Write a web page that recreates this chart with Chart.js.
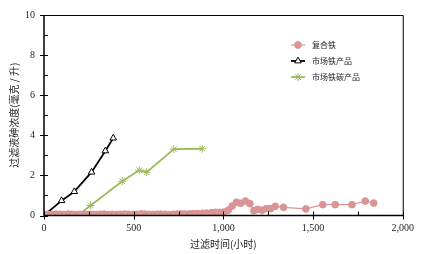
<!DOCTYPE html>
<html>
<head>
<meta charset="utf-8">
<script src="https://cdn.jsdelivr.net/npm/chart.js@4/dist/chart.umd.min.js"></script>
<style>
	html, body { margin: 0; padding: 0; background: #fff; }
	#wrap { width: 421px; height: 254px; }
</style>
</head>
<body>
<div id="wrap"><canvas id="result_chart"></canvas></div>
<script>
var seriesNames = ['复合铁', '市场铁产品', '市场铁碳产品'];

var compositeHours = [0, 20, 45, 65, 90, 110, 135, 155, 180, 200, 225, 245, 270, 290, 315, 335, 360, 380, 405, 425,
	450, 470, 495, 515, 540, 560, 585, 605, 630, 650, 675, 695, 720, 740, 765, 785, 810, 830, 855,
	884, 906, 934, 958, 980, 1003, 1027, 1049, 1073, 1096, 1123, 1148, 1170, 1192, 1216, 1240, 1263, 1289,
	1335, 1460, 1554, 1623, 1717, 1791, 1838];
var compositeValues = [0.05, 0.06, 0.05, 0.07, 0.06, 0.05, 0.07, 0.06, 0.05, 0.06, 0.07, 0.05, 0.06, 0.05, 0.06, 0.07, 0.05, 0.06, 0.05, 0.06,
	0.07, 0.06, 0.05, 0.06, 0.08, 0.07, 0.06, 0.05, 0.06, 0.07, 0.06, 0.05, 0.06, 0.07, 0.08, 0.07, 0.08, 0.09, 0.1,
	0.11, 0.12, 0.14, 0.16, 0.16, 0.17, 0.26, 0.47, 0.66, 0.61, 0.72, 0.59, 0.24, 0.31, 0.26, 0.34, 0.34, 0.46,
	0.41, 0.33, 0.54, 0.54, 0.54, 0.72, 0.62];

var ironHours = [0, 98, 169, 265, 342, 386];
var ironValues = [0, 0.74, 1.19, 2.16, 3.22, 3.86];

var ironCarbonHours = [0, 43, 95, 191, 260, 436, 531, 572, 724, 882];
var ironCarbonValues = [0, 0, 0, 0.02, 0.5, 1.71, 2.26, 2.16, 3.31, 3.33];

var xTicks = [0, 500, 1000, 1500, 2000];
var yTicks = [0, 2, 4, 6, 8, 10];

function toPoints(xs, ys) {
	return xs.map(function (x, i) { return { x: x, y: ys[i] }; });
}

var serif = '"Liberation Serif", "DejaVu Serif", serif';
var cjk = '"Noto Sans CJK SC", sans-serif';

// ticks, frame and the legend inside the plot
var framePlugin = {
	id: 'frame',
	afterDraw: function (chart) {
		var c = chart.ctx;
		var a = chart.chartArea;
		var xs = chart.scales.x;
		var ys = chart.scales.y;
		c.save();
		c.strokeStyle = '#000';
		c.lineWidth = 1;
		c.beginPath();
		c.moveTo(a.left, a.top + 0.5);
		c.lineTo(a.right + 0.5, a.top + 0.5);
		c.lineTo(a.right + 0.5, a.bottom);
		c.stroke();
		c.lineWidth = 1.5;
		c.beginPath();
		c.moveTo(a.left, a.top);
		c.lineTo(a.left, a.bottom);
		c.lineTo(a.right + 1, a.bottom);
		c.stroke();
		c.lineWidth = 1;
		var v, p;
		for (v = 0; v <= 10; v += 1) {
			p = Math.round(ys.getPixelForValue(v)) + 0.5;
			c.beginPath();
			if (v % 2 === 0) { c.moveTo(a.left - 4, p); c.lineTo(a.left + 4, p); }
			else { c.moveTo(a.left, p); c.lineTo(a.left + 4, p); }
			c.stroke();
		}
		for (v = 0; v <= 2000; v += 250) {
			p = Math.round(xs.getPixelForValue(v)) + 0.5;
			c.beginPath();
			if (v % 500 === 0) { c.moveTo(p, a.bottom - 4); c.lineTo(p, a.bottom + 4); }
			else { c.moveTo(p, a.bottom); c.lineTo(p, a.bottom - 4); }
			c.stroke();
		}
		// legend
		var lx = 291, ly = 45;
		chart.data.datasets.forEach(function (ds, i) {
			var y = ly + i * 16;
			c.strokeStyle = ds.borderColor;
			c.lineWidth = ds.borderWidth;
			c.beginPath();
			c.moveTo(lx, y);
			c.lineTo(lx + 14, y);
			c.stroke();
			c.fillStyle = ds.backgroundColor;
			c.strokeStyle = ds.borderColor;
			c.lineWidth = ds.pointBorderWidth;
			Chart.helpers.drawPoint(c, {
				pointStyle: ds.pointStyle,
				radius: ds.pointRadius,
				borderWidth: ds.pointBorderWidth
			}, lx + 7, y);
			c.fillStyle = '#222';
			c.font = '8px ' + cjk;
			c.textBaseline = 'middle';
			c.textAlign = 'left';
			c.fillText(ds.label, lx + 21, y);
		});
		c.restore();
	}
};

var config = {
	type: 'scatter',
	data: {
		datasets: [{
			label: seriesNames[0],
			data: toPoints(compositeHours, compositeValues),
			showLine: true,
			borderColor: '#d99596',
			backgroundColor: '#d99596',
			borderWidth: 1.2,
			pointStyle: 'circle',
			pointRadius: 3.4,
			pointBorderWidth: 1
		}, {
			label: seriesNames[1],
			data: toPoints(ironHours, ironValues),
			showLine: true,
			borderColor: '#000',
			backgroundColor: '#fff',
			borderWidth: 1.8,
			pointStyle: 'triangle',
			pointRadius: 3.8,
			pointBorderWidth: 1
		}, {
			label: seriesNames[2],
			data: toPoints(ironCarbonHours, ironCarbonValues),
			showLine: true,
			borderColor: '#9bbb59',
			backgroundColor: '#9bbb59',
			borderWidth: 1.8,
			pointStyle: 'star',
			pointRadius: 4,
			pointBorderWidth: 1
		}]
	},
	options: {
		responsive: true,
		maintainAspectRatio: false,
		animation: false,
		layout: { padding: { left: 4, right: 18, top: 15, bottom: 0 } },
		plugins: { legend: { display: false }, tooltip: { enabled: false } },
		scales: {
			x: {
				type: 'linear', min: 0, max: 2000,
				afterBuildTicks: function (s) { s.ticks = xTicks.map(function (v) { return { value: v }; }); },
				afterFit: function (s) { s.height = 38.5; },
				grid: { display: false, drawTicks: false },
				border: { display: false },
				ticks: {
					padding: 7, color: '#222', font: { family: serif, size: 10 },
					maxRotation: 0,
					callback: function (v) { return v.toLocaleString('en-US'); }
				},
				title: { display: true, text: '过滤时间(小时)', color: '#222', font: { family: cjk, size: 10 }, padding: { top: 6 } }
			},
			y: {
				type: 'linear', min: 0, max: 10,
				afterBuildTicks: function (s) { s.ticks = yTicks.map(function (v) { return { value: v }; }); },
				afterFit: function (s) { s.width = 40; },
				grid: { display: false, drawTicks: false },
				border: { display: false },
				ticks: { padding: 9, color: '#222', font: { family: serif, size: 10 } },
				title: { display: true, text: '过滤液砷浓度(毫克 / 升)', color: '#222', font: { family: cjk, size: 10 }, padding: { top: 4, bottom: 0 } }
			}
		}
	},
	plugins: [framePlugin]
};

var ctx = document.getElementById('result_chart');
var chart = new Chart(ctx, config);
</script>
</body>
</html>
